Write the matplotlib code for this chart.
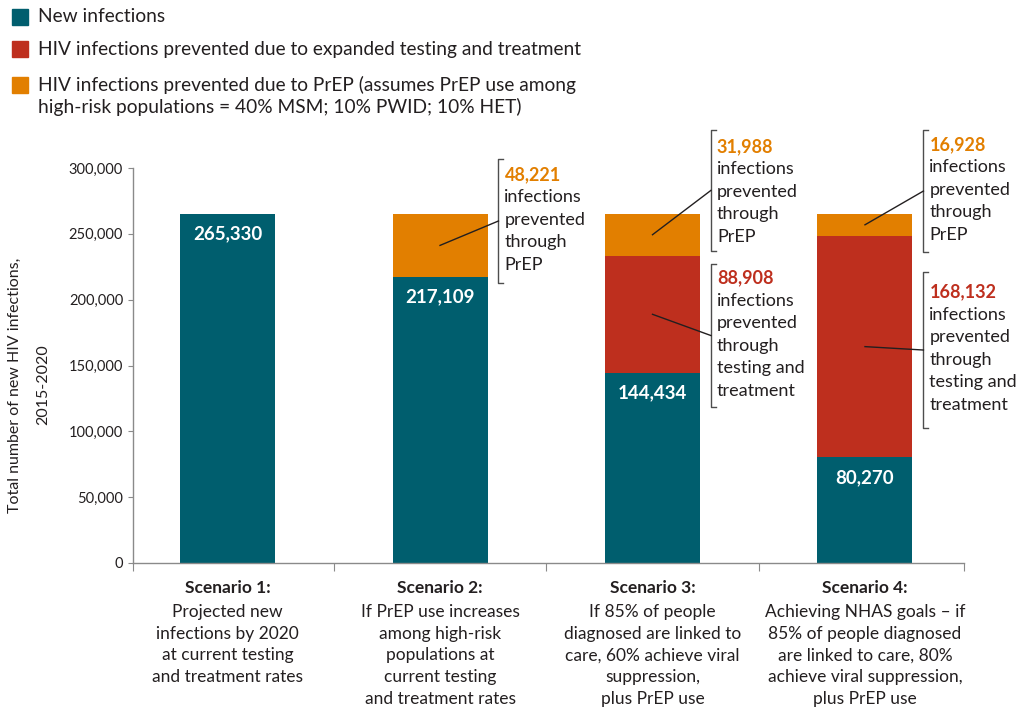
import matplotlib
matplotlib.use('Agg')
import matplotlib.pyplot as plt
from matplotlib.patches import Rectangle
import numpy as np

plt.rcParams['font.family'] = ['Lato', 'DejaVu Sans']

# ---------------------------------------------------------------
# data
scenario_titles = ['Scenario 1:', 'Scenario 2:', 'Scenario 3:', 'Scenario 4:']
scenario_texts = [
    ['Projected new', 'infections by 2020', 'at current testing', 'and treatment rates'],
    ['If PrEP use increases', 'among high-risk', 'populations at', 'current testing', 'and treatment rates'],
    ['If 85% of people', 'diagnosed are linked to', 'care, 60% achieve viral', 'suppression,', 'plus PrEP use'],
    ['Achieving NHAS goals \u2013 if', '85% of people diagnosed', 'are linked to care, 80%', 'achieve viral suppression,', 'plus PrEP use'],
]
new_infections = [265330, 217109, 144434, 80270]
prevented_testing = [0, 0, 88908, 168132]
prevented_prep = [0, 48221, 31988, 16928]

legend_labels = ['New infections',
                 'HIV infections prevented due to expanded testing and treatment',
                 'HIV infections prevented due to PrEP (assumes PrEP use among\nhigh-risk populations = 40% MSM; 10% PWID; 10% HET)']
y_ticks = [0, 50000, 100000, 150000, 200000, 250000, 300000]
# ---------------------------------------------------------------

TEAL = '#005e6e'
RED = '#be2f1e'
ORANGE = '#e27f00'
TXT = '#231f20'
GRAY = '#8a8a8a'
PX = 0.72  # points per pixel at dpi 100

fig = plt.figure(figsize=(10.26, 7.13), dpi=100)
ax = fig.add_axes([133 / 1026, 150 / 713, 831 / 1026, 395 / 713])

x = np.arange(len(new_infections))
w = 0.447
new_arr = np.array(new_infections)
tt_arr = np.array(prevented_testing)
prep_arr = np.array(prevented_prep)
ax.bar(x, new_arr, w, color=TEAL, zorder=2)
ax.bar(x, tt_arr, w, bottom=new_arr, color=RED, zorder=2)
ax.bar(x, prep_arr, w, bottom=new_arr + tt_arr, color=ORANGE, zorder=2)

ax.set_xlim(-0.445, 3.466)
ax.set_ylim(0, 300000)

# axes styling
for s in ['top', 'right']:
    ax.spines[s].set_visible(False)
for s in ['left', 'bottom']:
    ax.spines[s].set_color(GRAY)
    ax.spines[s].set_linewidth(1)
ax.set_yticks(y_ticks)
ax.set_yticklabels([f'{v:,}' for v in y_ticks])
ax.tick_params(axis='y', length=5 * PX, color=GRAY, labelsize=10.5, labelcolor=TXT, pad=3.5)
ax.set_xticks([-0.445, 0.5, 1.5, 2.5, 3.466])
ax.set_xticklabels([])
ax.tick_params(axis='x', length=8 * PX, color=GRAY)

# values inside the teal bars
for i, v in enumerate(new_infections):
    ax.annotate(f'{v:,}', xy=(i, v), xytext=(0, -20 * PX), textcoords='offset points',
                ha='center', va='center', color='white', fontweight='bold', fontsize=13.5)

# category labels below the axis
for i, title in enumerate(scenario_titles):
    ax.annotate(title, xy=(i, 0), xycoords=('data', 'axes fraction'),
                xytext=(0, -25 * PX), textcoords='offset points',
                ha='center', va='center', fontsize=12.5, fontweight='bold', color=TXT)
    for k, line in enumerate(scenario_texts[i]):
        ax.annotate(line, xy=(i, 0), xycoords=('data', 'axes fraction'),
                    xytext=(0, -(49 + 21.7 * k) * PX), textcoords='offset points',
                    ha='center', va='center', fontsize=12.5, color=TXT)

# callouts: (bar, segment, bracket top, bracket bottom, first line offset px)
segments = {
    'prep': (new_arr + tt_arr, prep_arr, ORANGE, ['infections', 'prevented', 'through', 'PrEP']),
    'tt': (new_arr, tt_arr, RED, ['infections', 'prevented', 'through', 'testing and', 'treatment']),
}
callouts = [
    (1, 'prep', 307000, 212500, 16),
    (2, 'prep', 329000, 237000, 17),
    (2, 'tt', 227000, 118500, 14),
    (3, 'prep', 329000, 236000, 15),
    (3, 'tt', 221000, 102500, 20),
]
for i, key, top, bot, first in callouts:
    base, vals, col, body = segments[key]
    mid = base[i] + vals[i] / 2
    bx = i + 0.275
    tick = 5 / 212.5
    ax.plot([bx + tick, bx, bx, bx + tick], [top, top, bot, bot], color='#4d4d4d',
            lw=1, clip_on=False, zorder=3)
    ax.plot([i, bx], [mid, (top + bot) / 2], color=TXT, lw=1, clip_on=False, zorder=3)
    ax.annotate(f'{vals[i]:,}', xy=(bx, top), xytext=(6 * PX, -first * PX),
                textcoords='offset points', ha='left', va='center', color=col,
                fontweight='bold', fontsize=13, annotation_clip=False)
    for k, line in enumerate(body):
        ax.annotate(line, xy=(bx, top), xytext=(6 * PX, -(first + 22.5 * (k + 1)) * PX),
                    textcoords='offset points', ha='left', va='center', color=TXT,
                    fontsize=13, annotation_clip=False)

# y label (two centred lines)
fig.text(15 / 1026, 1 - 385 / 713, 'Total number of new HIV infections,', rotation=90,
         ha='center', va='center', fontsize=11.5, color=TXT)
fig.text(43 / 1026, 1 - 385 / 713, '2015-2020', rotation=90,
         ha='center', va='center', fontsize=11.5, color=TXT)

# legend
leg_rows = [17, 49, 85]
for lab, col, yc in zip(legend_labels, [TEAL, RED, ORANGE], leg_rows):
    fig.patches.append(Rectangle((12 / 1026, 1 - (yc + 8) / 713), 16 / 1026, 16 / 713,
                                 transform=fig.transFigure, color=col))
    for k, part in enumerate(lab.split('\n')):
        fig.text(38 / 1026, 1 - (yc + 22 * k) / 713, part, ha='left', va='center',
                 fontsize=13.8, color=TXT)

fig.savefig('out.png', dpi=100)
